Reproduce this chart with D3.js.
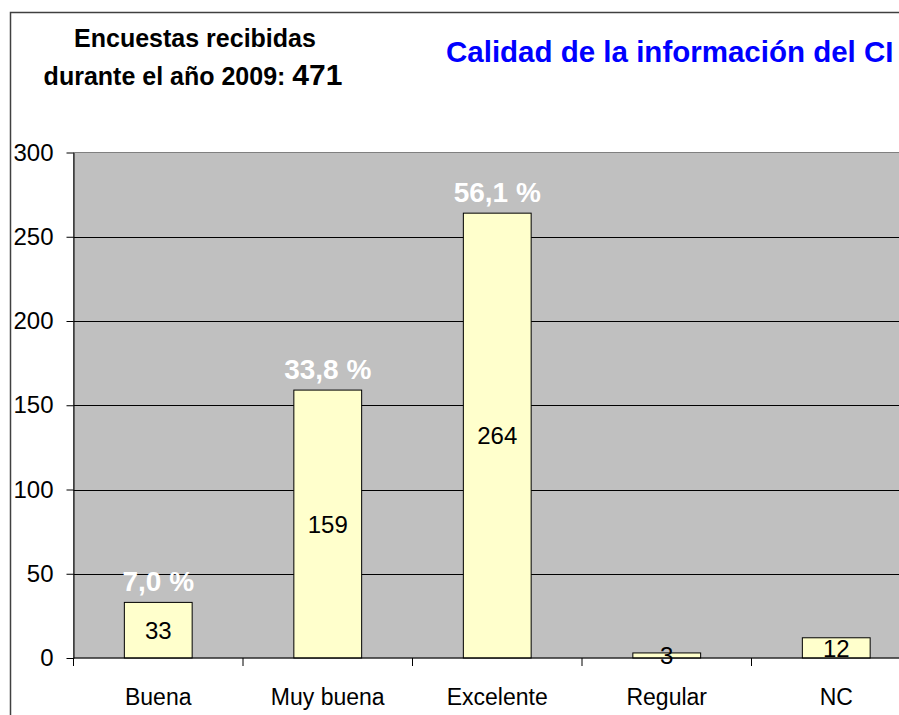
<!DOCTYPE html>
<html>
<head>
<meta charset="utf-8">
<script src="https://cdn.jsdelivr.net/npm/d3@7"></script>
<style>
  body { margin: 0; background: #fff; overflow: hidden; }
  svg { display: block; font-family: "Liberation Sans", Arial, sans-serif; }
</style>
</head>
<body>
<div id="chart"></div>
<script>
// Data
const categories = ["Buena", "Muy buena", "Excelente", "Regular", "NC"];
const counts = [33, 159, 264, 3, 12];
const percentLabels = ["7,0 %", "33,8 %", "56,1 %", null, null];
const yTicks = [0, 50, 100, 150, 200, 250, 300];
const totalSurveys = 471;

const width = 899;
const height = 715;

const svg = d3.select("#chart")
  .append("svg")
  .attr("width", width)
  .attr("height", height);

// outer chart border (right and bottom fall outside the view)
svg.append("path")
  .attr("d", "M10.5,715 V12.5 H899")
  .attr("fill", "none")
  .attr("stroke", "#404040")
  .attr("stroke-width", 1.5);

// plot area extends past the right edge of the picture
const plotLeft = 73.5;
const step = 169.5;
const x = d3.scaleBand()
  .domain(categories)
  .range([plotLeft, plotLeft + step * categories.length])
  .paddingInner(0.6)
  .paddingOuter(0.3);

const y = d3.scaleLinear()
  .domain([0, 300])
  .range([658, 152.5]);

svg.append("rect")
  .attr("x", plotLeft)
  .attr("y", y(300))
  .attr("width", step * categories.length)
  .attr("height", y(0) - y(300))
  .attr("fill", "#c0c0c0")
  .attr("stroke", "#808080")
  .attr("stroke-width", 1);

// gridlines
svg.selectAll(".grid")
  .data(yTicks.filter(d => d > 0 && d < 300))
  .enter()
  .append("line")
  .attr("class", "grid")
  .attr("x1", plotLeft)
  .attr("x2", plotLeft + step * categories.length)
  .attr("y1", d => Math.round(y(d)) + 0.5)
  .attr("y2", d => Math.round(y(d)) + 0.5)
  .attr("stroke", "#000")
  .attr("stroke-width", 1);

// y axis
const yAxis = d3.axisLeft(y)
  .tickValues(yTicks)
  .tickSize(7)
  .tickPadding(13)
  .tickSizeOuter(0);

const yG = svg.append("g")
  .attr("transform", `translate(${plotLeft},0)`)
  .call(yAxis);
yG.select(".domain").attr("stroke", "#000");
yG.selectAll(".tick line").attr("stroke", "#000");
yG.selectAll("text")
  .attr("font-size", "24px")
  .attr("font-family", "Liberation Sans, Arial, sans-serif")
  .attr("fill", "#000");

// bars
svg.selectAll(".bar")
  .data(categories)
  .enter()
  .append("rect")
  .attr("class", "bar")
  .attr("x", d => x(d))
  .attr("y", (d, i) => y(counts[i]))
  .attr("width", x.bandwidth())
  .attr("height", (d, i) => y(0) - y(counts[i]))
  .attr("fill", "#ffffcc")
  .attr("stroke", "#000")
  .attr("stroke-width", 1);

// x axis line and category boundary ticks
svg.append("line")
  .attr("x1", plotLeft)
  .attr("x2", plotLeft + step * categories.length)
  .attr("y1", y(0))
  .attr("y2", y(0))
  .attr("stroke", "#000")
  .attr("stroke-width", 1.2);

const boundaries = d3.range(categories.length + 1).map(i => plotLeft + step * i);
svg.selectAll(".xtick")
  .data(boundaries)
  .enter()
  .append("line")
  .attr("class", "xtick")
  .attr("x1", d => d)
  .attr("x2", d => d)
  .attr("y1", y(0))
  .attr("y2", y(0) + 8)
  .attr("stroke", "#000");

svg.selectAll(".xlabel")
  .data(categories)
  .enter()
  .append("text")
  .attr("class", "xlabel")
  .attr("x", d => x(d) + x.bandwidth() / 2)
  .attr("y", 705)
  .attr("text-anchor", "middle")
  .attr("font-size", "23px")
  .attr("fill", "#000")
  .text(d => d);

// value labels inside bars
svg.selectAll(".value")
  .data(categories)
  .enter()
  .append("text")
  .attr("class", "value")
  .attr("x", d => x(d) + x.bandwidth() / 2)
  .attr("y", (d, i) => (y(counts[i]) + y(0)) / 2)
  .attr("dy", "0.36em")
  .attr("text-anchor", "middle")
  .attr("font-size", "24px")
  .attr("fill", "#000")
  .text((d, i) => counts[i]);

// percentage labels above bars
svg.selectAll(".pct")
  .data(categories.filter((d, i) => percentLabels[i]))
  .enter()
  .append("text")
  .attr("class", "pct")
  .attr("x", d => x(d) + x.bandwidth() / 2)
  .attr("y", d => y(counts[categories.indexOf(d)]) - 11)
  .attr("text-anchor", "middle")
  .attr("font-size", "28px")
  .attr("font-weight", "bold")
  .attr("fill", "#fff")
  .text(d => percentLabels[categories.indexOf(d)]);

// header texts
svg.append("text")
  .attr("x", 195)
  .attr("y", 47)
  .attr("text-anchor", "middle")
  .attr("font-size", "25px")
  .attr("font-weight", "bold")
  .text("Encuestas recibidas");

const line2 = svg.append("text")
  .attr("x", 193)
  .attr("y", 85)
  .attr("text-anchor", "middle")
  .attr("font-weight", "bold");
line2.append("tspan")
  .attr("font-size", "25px")
  .text("durante el año 2009: ");
line2.append("tspan")
  .attr("font-size", "30px")
  .text(totalSurveys);

svg.append("text")
  .attr("x", 446)
  .attr("y", 62)
  .attr("font-size", "29.5px")
  .attr("font-weight", "bold")
  .attr("fill", "#0000ff")
  .text("Calidad de la información del CI");
</script>
</body>
</html>
